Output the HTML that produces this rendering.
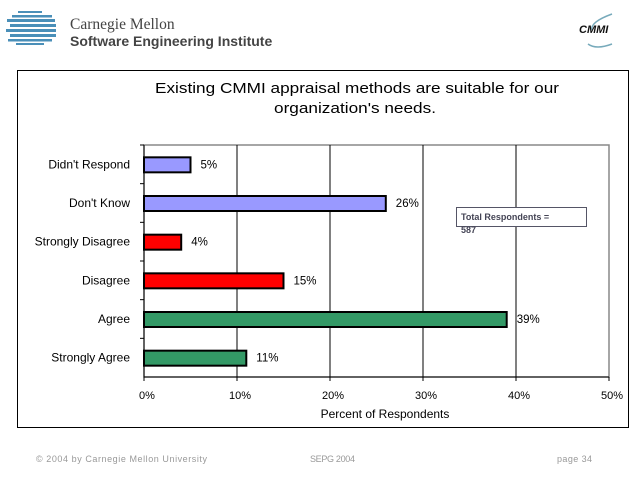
<!DOCTYPE html>
<html><head><meta charset="utf-8"><style>
body{margin:0;background:#fff;width:640px;height:482px;overflow:hidden;font-family:"Liberation Sans",sans-serif}
</style></head><body>
<svg width="640" height="482" xmlns="http://www.w3.org/2000/svg" font-family="Liberation Sans, sans-serif">
<g>
 <g fill="#4a8fb8">
  <rect x="18" y="11" width="24" height="2"/><rect x="12" y="15" width="40" height="2.5"/>
  <rect x="7" y="19" width="48" height="3"/><rect x="10" y="24" width="46" height="3"/>
  <rect x="6" y="29" width="50" height="3"/><rect x="10" y="34" width="46" height="3"/>
  <rect x="8" y="39" width="44" height="2.5"/><rect x="16" y="43" width="28" height="2"/>
 </g>
 <text x="70" y="29" font-family="Liberation Serif, serif" font-size="15.5" fill="#444">Carnegie Mellon</text>
 <text x="70" y="46" font-size="14" font-weight="bold" fill="#444">Software Engineering Institute</text>
</g>
<g>
 <path d="M612 14 Q590 22 592 30" stroke="#7ab" fill="none" stroke-width="1.5"/>
 <path d="M612 44 Q596 50 588 44" stroke="#7ab" fill="none" stroke-width="1.5"/>
 <text x="579" y="33" font-size="11" font-weight="bold" font-style="italic" fill="#111">CMMI</text>
</g>
<rect x="17.5" y="70.5" width="611" height="357" fill="#fff" stroke="#000" stroke-width="1"/>
<text x="357" y="93" font-size="15" text-anchor="middle" textLength="404" lengthAdjust="spacingAndGlyphs">Existing CMMI appraisal methods are suitable for our</text>
<text x="355" y="113" font-size="15" text-anchor="middle" textLength="162" lengthAdjust="spacingAndGlyphs">organization's needs.</text>
<g id="plot"></g>
<g>
 <rect x="456.5" y="207.5" width="130" height="19" fill="#fff" stroke="#556"/>
 <text x="461" y="220" font-size="9" font-weight="bold" fill="#445">Total Respondents =</text>
 <text x="461" y="233" font-size="9" font-weight="bold" fill="#445">587</text>
</g>
<text x="385" y="418" font-size="12" text-anchor="middle">Percent of Respondents</text>
<text x="36" y="462" font-size="9" fill="#999" textLength="171" lengthAdjust="spacing">© 2004 by Carnegie Mellon University</text>
<text x="310" y="462" font-size="9" fill="#999" textLength="45" lengthAdjust="spacing">SEPG 2004</text>
<text x="557" y="462" font-size="9" fill="#999" textLength="35" lengthAdjust="spacing">page 34</text>
</svg>
<script>
const categories=["Didn't Respond","Don't Know","Strongly Disagree","Disagree","Agree","Strongly Agree"];
const values=[5,26,4,15,39,11];
const colors=["#9999ff","#9999ff","#ff0000","#ff0000","#339966","#339966"];
const tickValues=[0,10,20,30,40,50];
const tickLabels=["0%","10%","20%","30%","40%","50%"];
const NS="http://www.w3.org/2000/svg";
const X0=144,X1=609,Y0=145,Y1=377;
const xs=v=>X0+(v/50)*(X1-X0);
const band=(Y1-Y0)/categories.length;
const g=document.getElementById('plot');
function mk(t,a){const e=document.createElementNS(NS,t);for(const k in a)e.setAttribute(k,a[k]);g.appendChild(e);return e;}
const frame=mk('rect',{x:X0,y:Y0,width:X1-X0,height:Y1-Y0,fill:'#fff',stroke:'#888','stroke-width':1.5});


tickValues.forEach((v,i)=>{
 if(i>0&&i<tickValues.length-1){const l=mk('line',{x1:xs(v),x2:xs(v),y1:Y0,y2:Y1,stroke:'#000','stroke-width':1});
 
 }
 const tk=mk('line',{x1:xs(v),x2:xs(v),y1:Y1,y2:Y1+4,stroke:'#000'});
 
 
 const t=mk('text',{x:xs(v)+3,y:Y1+22,'font-size':11,'text-anchor':'middle'});t.textContent=tickLabels[i];
 
 
});
mk('line',{x1:X0,x2:X1,y1:Y1,y2:Y1,stroke:'#000'});
mk('line',{x1:X0,x2:X0,y1:Y0,y2:Y1,stroke:'#000'});
categories.forEach((c,i)=>{
 const cy=Y0+band*(i+0.5);
 const tk=mk('line',{x1:X0-4,x2:X0,y1:Y0+band*i,y2:Y0+band*i,stroke:'#000'});
 
 
 const lb=mk('text',{x:X0-14,y:cy+4,'font-size':12,'text-anchor':'end'});lb.textContent=c;
 
 
 const b=mk('rect',{x:X0,y:cy-7,width:xs(values[i])-X0,height:15,fill:colors[i],stroke:'#000','stroke-width':2});
 
 
 const v=mk('text',{x:xs(values[i])+10,y:cy+4,'font-size':11.5});v.textContent=values[i]+'%';
 
 
});
</script>
</body></html>
